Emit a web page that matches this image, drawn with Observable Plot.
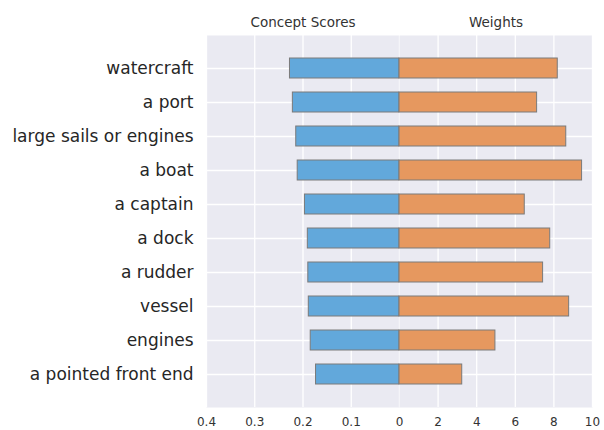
<!DOCTYPE html>
<html>
<head>
<meta charset="utf-8">
<script src="https://cdn.jsdelivr.net/npm/d3@7"></script>
<script src="https://cdn.jsdelivr.net/npm/@observablehq/plot@0.6"></script>
<style>
  html, body { margin: 0; padding: 0; background: #fff; }
  #chart { display: flex; width: 604px; height: 430px; font-family: "DejaVu Sans", sans-serif; }
</style>
</head>
<body>
<div id="chart"></div>
<script>
const categories = ["watercraft", "a port", "large sails or engines", "a boat", "a captain",
  "a dock", "a rudder", "vessel", "engines", "a pointed front end"];
const conceptScores = [0.227, 0.221, 0.214, 0.211, 0.196, 0.190, 0.189, 0.188, 0.184, 0.173];
const weights = [8.2, 7.13, 8.64, 9.46, 6.49, 7.81, 7.44, 8.79, 4.97, 3.25];
const leftTicks = [0.4, 0.3, 0.2, 0.1, 0];
const rightTicks = [2, 4, 6, 8, 10];
const panelTitles = ["Concept Scores", "Weights"];

const leftData = categories.map((c, i) => ({category: c, value: conceptScores[i]}));
const rightData = categories.map((c, i) => ({category: c, value: weights[i]}));

const bg = "#eaeaf2";
const textColor = "#333333";
const yScale = {domain: categories, paddingInner: 0, paddingOuter: 0.47, label: null};
const gridStyle = {stroke: "white", strokeOpacity: 1, strokeWidth: 1.3};

const common = {
  height: 430,
  marginTop: 35,
  marginBottom: 23,
  style: {fontFamily: "DejaVu Sans, sans-serif", color: textColor, background: "transparent", overflow: "visible"}
};

const left = Plot.plot({
  ...common,
  width: 399,
  marginLeft: 206,
  marginRight: 0,
  x: {domain: [0.4, 0], ticks: leftTicks, tickFormat: d => d === 0 ? "0" : d3.format(".1f")(d), label: null},
  y: yScale,
  marks: [
    Plot.frame({fill: bg, stroke: null}),
    Plot.gridX(leftTicks, gridStyle),
    Plot.gridY(gridStyle),
    Plot.barX(leftData, {y: "category", x1: 0, x2: "value", fill: "#5da5da", fillOpacity: 0.97,
      stroke: "#7a7a7a", strokeWidth: 1, insetTop: 7, insetBottom: 7}),
    Plot.axisX(leftTicks, {tickSize: 0, tickPadding: 10, fontSize: 12, fill: textColor,
      tickFormat: d => d === 0 ? "0" : d3.format(".1f")(d), label: null}),
    Plot.axisY({tickSize: 0, tickPadding: 13, fontSize: 17, fill: "#262626", label: null}),
    Plot.text([panelTitles[0]], {frameAnchor: "top", dy: -18, fontSize: 13.5, fill: textColor})
  ]
});

const right = Plot.plot({
  ...common,
  width: 205,
  marginLeft: 0,
  marginRight: 12,
  x: {domain: [0, 10], label: null},
  y: {...yScale, axis: null},
  marks: [
    Plot.frame({fill: bg, stroke: null}),
    Plot.gridX(rightTicks, gridStyle),
    Plot.gridY(gridStyle),
    Plot.barX(rightData, {y: "category", x1: 0, x2: "value", fill: "#e5955a", fillOpacity: 0.97,
      stroke: "#7a7a7a", strokeWidth: 1, insetTop: 7, insetBottom: 7}),
    Plot.axisX(rightTicks, {tickSize: 0, tickPadding: 10, fontSize: 12, fill: textColor, label: null}),
    Plot.text([panelTitles[1]], {frameAnchor: "top", dy: -18, fontSize: 13.5, fill: textColor})
  ]
});

document.getElementById("chart").append(left, right);
</script>
</body>
</html>
